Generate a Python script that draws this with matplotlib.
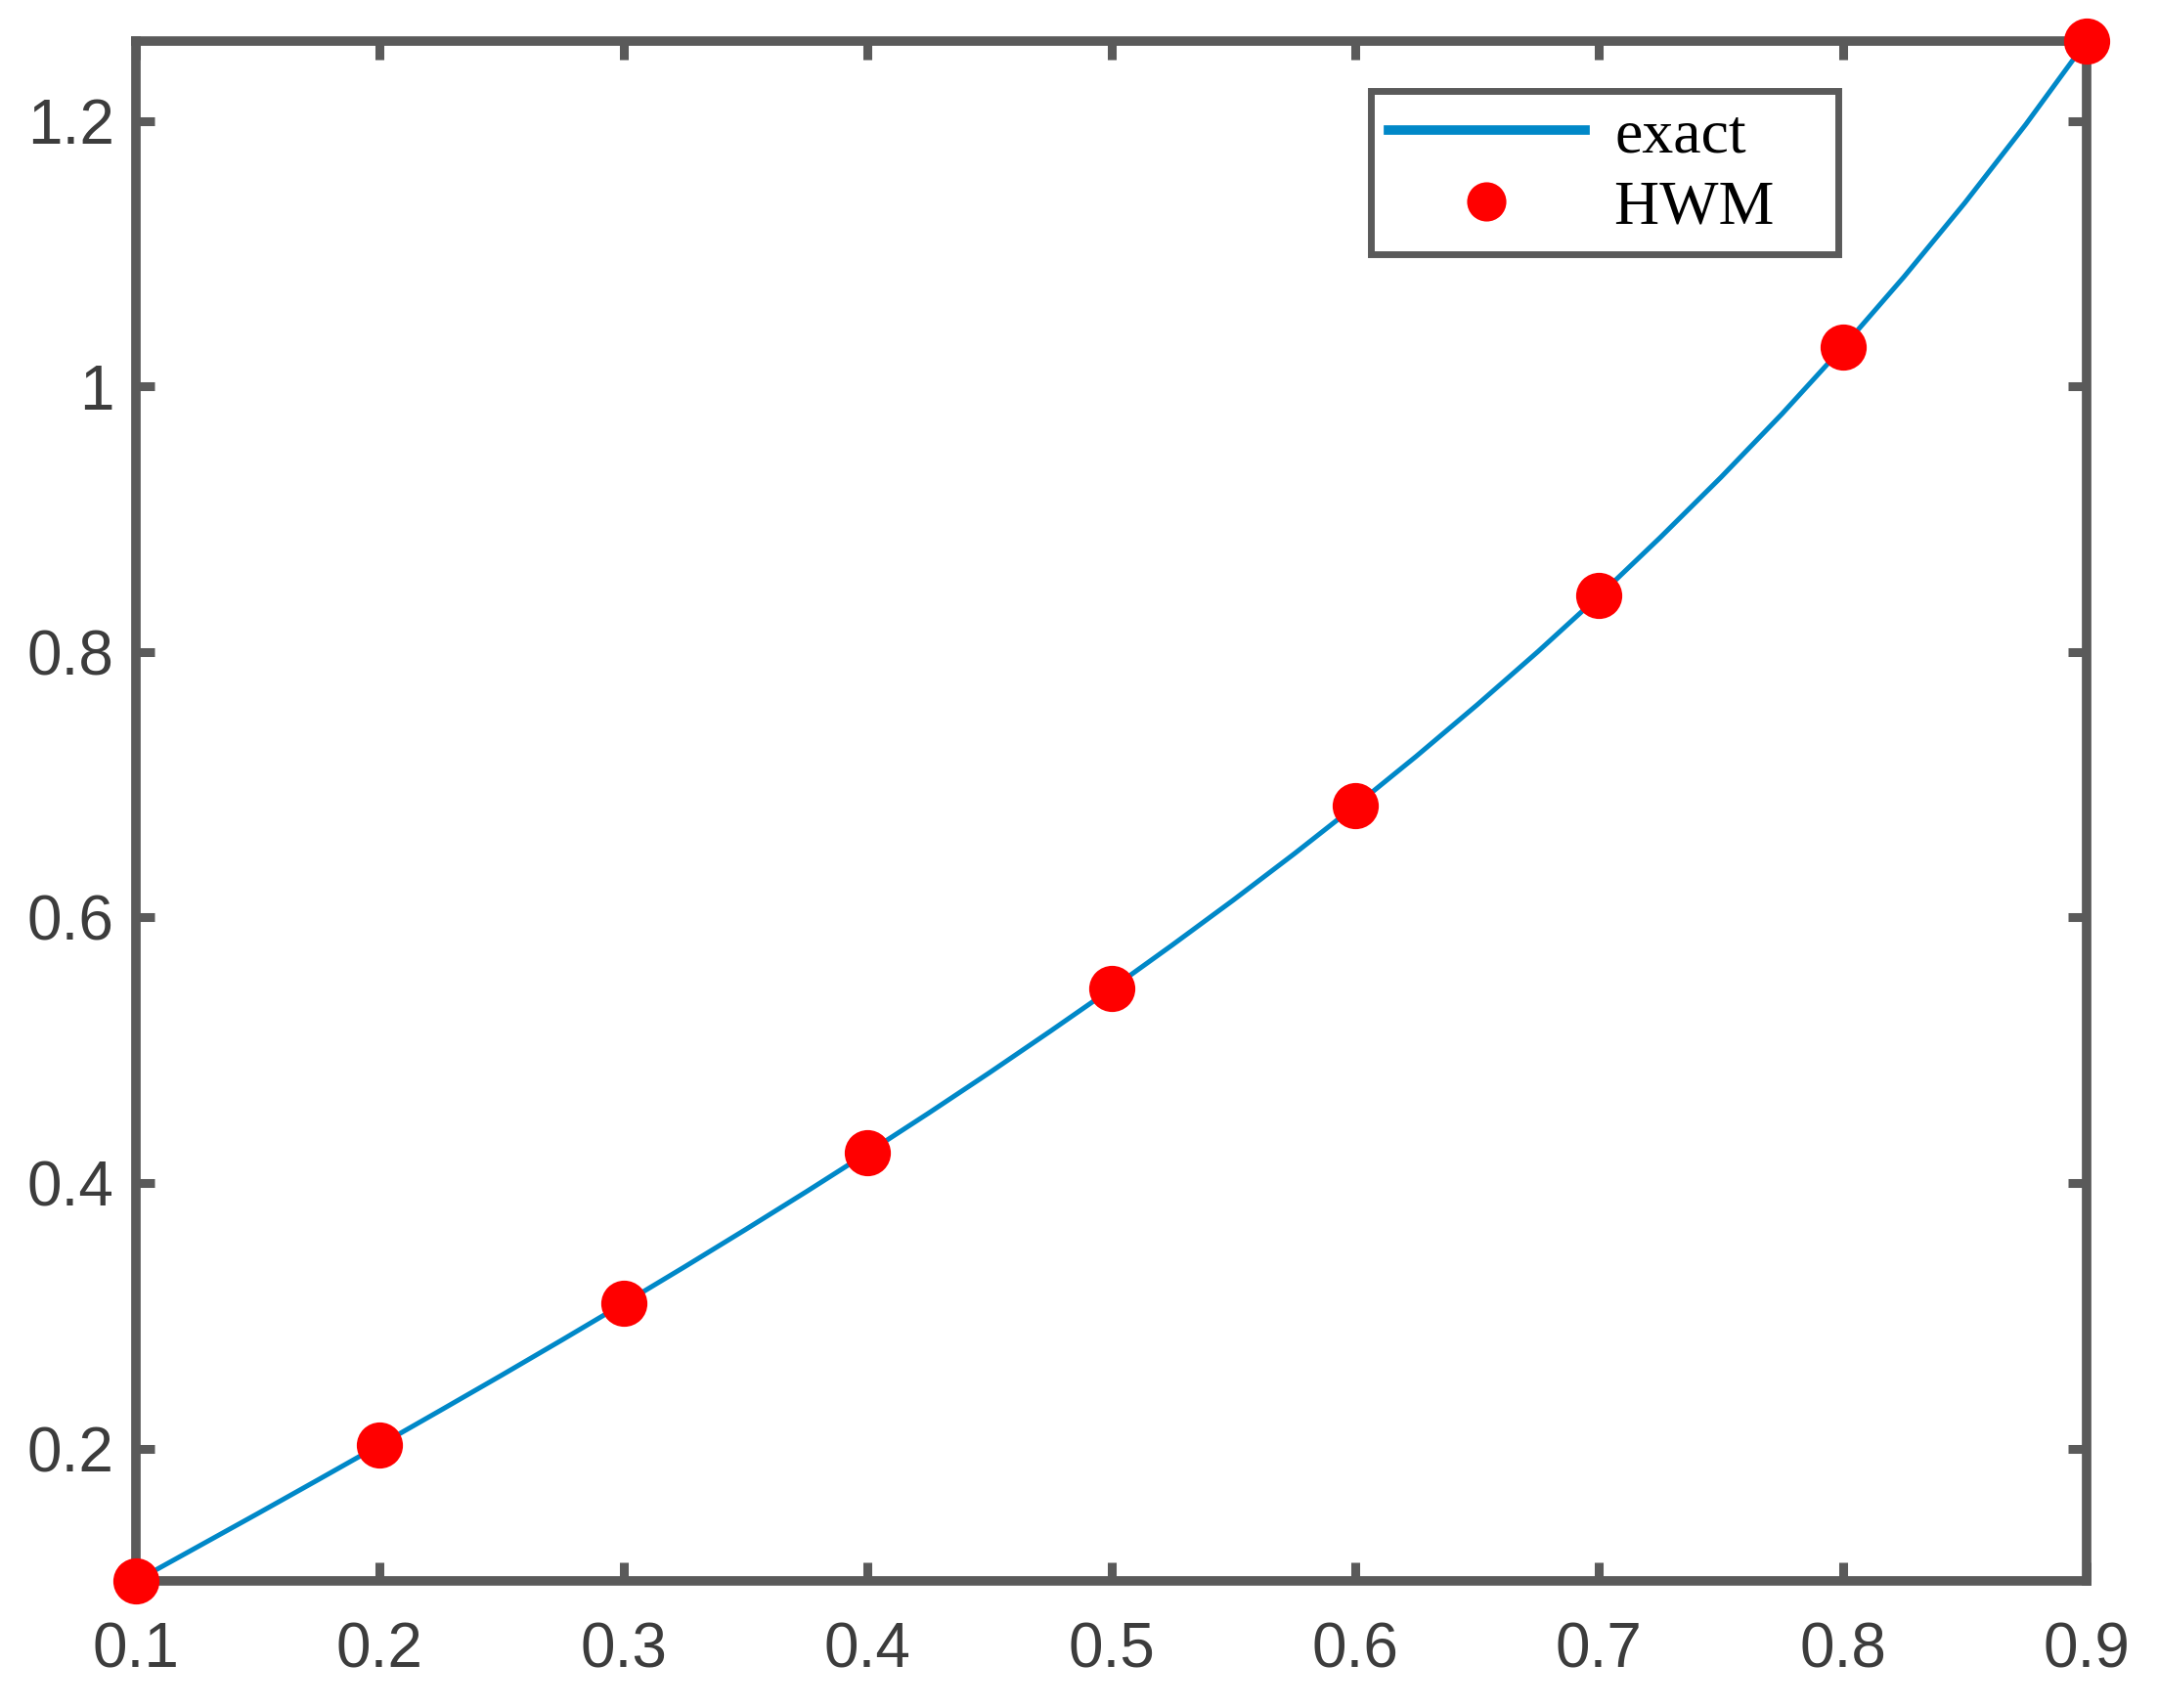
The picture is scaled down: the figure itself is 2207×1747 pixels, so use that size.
import matplotlib
matplotlib.use("Agg")
import matplotlib.pyplot as plt

# values
x_hwm = [0.1, 0.2, 0.3, 0.4, 0.5, 0.6, 0.7, 0.8, 0.9]
y_hwm = [0.1003, 0.2027, 0.3093, 0.4228, 0.5463, 0.6841, 0.8423, 1.0296, 1.2602]

x_exact = [0.1, 0.125, 0.15, 0.175, 0.2, 0.225, 0.25, 0.275, 0.3, 0.325,
           0.35, 0.375, 0.4, 0.425, 0.45, 0.475, 0.5, 0.525, 0.55, 0.575,
           0.6, 0.625, 0.65, 0.675, 0.7, 0.725, 0.75, 0.775, 0.8, 0.825,
           0.85, 0.875, 0.9]
y_exact = [0.1003, 0.1257, 0.1511, 0.1768, 0.2027, 0.2289, 0.2553, 0.2821,
           0.3093, 0.3369, 0.3650, 0.3936, 0.4228, 0.4526, 0.4831, 0.5144,
           0.5463, 0.5793, 0.6131, 0.6480, 0.6841, 0.7214, 0.7602, 0.8004,
           0.8423, 0.8861, 0.9316, 0.9793, 1.0296, 1.0825, 1.1383, 1.1974,
           1.2602]

x_ticks = [0.1, 0.2, 0.3, 0.4, 0.5, 0.6, 0.7, 0.8, 0.9]
y_ticks = [0.2, 0.4, 0.6, 0.8, 1.0, 1.2]
y_labels = ["0.2", "0.4", "0.6", "0.8", "1", "1.2"]

spine_col = "#5a5a5a"

fig = plt.figure(figsize=(22.07, 17.47), dpi=100)
ax = fig.add_axes([0.063, 0.0744, 0.904, 0.9016])

ax.plot(x_exact, y_exact, color="#0088c8", lw=3.6, label="exact")
ax.plot(x_hwm, y_hwm, "o", color="#ff0000", ms=34, mec="none",
        clip_on=False, label="HWM   ", zorder=5)

ax.set_xlim(x_exact[0], x_exact[-1])
ax.set_ylim(y_exact[0], y_exact[-1])
ax.set_xticks(x_ticks)
ax.set_yticks(y_ticks)
ax.set_yticklabels(y_labels)

for s in ax.spines.values():
    s.set_color(spine_col)
    s.set_linewidth(7)

ax.tick_params(direction="in", length=14, width=6.5, color=spine_col,
               top=True, right=True, labelsize=46, labelcolor="#3c3c3c",
               labelfontfamily="Liberation Sans")
ax.tick_params(axis="x", pad=30)
ax.tick_params(axis="y", pad=16)

leg = ax.legend(loc="upper left", bbox_to_anchor=(0.633, 0.9677),
                borderaxespad=0, fancybox=False, framealpha=1,
                edgecolor=spine_col, handlelength=3.15, handletextpad=0.47,
                labelspacing=0.22, borderpad=0.28, markerscale=0.85,
                prop={"family": "Liberation Serif", "size": 46})
leg.get_frame().set_linewidth(5)
leg.get_lines()[0].set_linewidth(7)

fig.savefig("out.png", dpi=100)
